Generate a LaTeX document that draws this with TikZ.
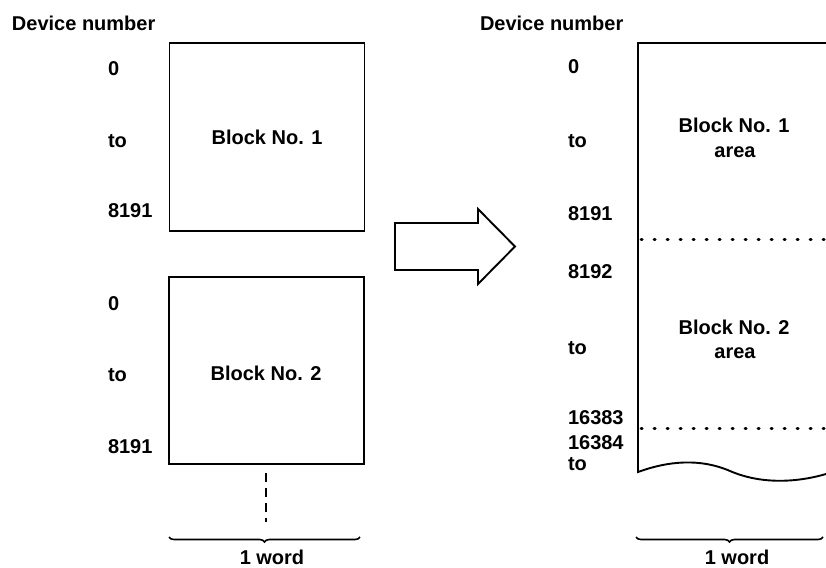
\documentclass[tikz,border=0pt]{standalone}
\usepackage{fontspec}
\setmainfont{Liberation Sans}
\usetikzlibrary{decorations.pathreplacing}
\begin{document}
\begin{tikzpicture}[x=1pt,y=-1pt,
  every node/.style={font=\fontsize{20}{24}\selectfont\bfseries, inner sep=0pt, outer sep=0pt},
  lab/.style={anchor=base west},
  ctr/.style={anchor=base},
  blockbox/.style={draw, line width=1.9pt, minimum width=195pt, minimum height=188pt},
  ln/.style={line width=1.9pt},
  dotline/.style={line width=3pt, dash pattern=on 1pt off 12pt, line cap=round},
  bracestyle/.style={line width=1.6pt, decorate, decoration={brace, mirror, amplitude=5pt}}]
\useasboundingbox (0,0) rectangle (826,567);
% left side
\node[lab] (dnL) at (12,31) {Device number};
\node[blockbox] (b1) at (267,137) {Block No. 1};
\node[blockbox, minimum height=187pt] (b2) at (266.5,370.5) {};
\node[ctr] (b2t) at (266,380) {Block No. 2};
\node[lab] (l1) at (108,76) {0};
\node[lab] (l2) at (108,147) {to};
\node[lab] (l3) at (108,217) {8191};
\node[lab] (l4) at (108,310) {0};
\node[lab] (l5) at (108,381) {to};
\node[lab] (l6) at (108,453) {8191};
\coordinate (dA) at (266,473);
\coordinate (dB) at (266,522);
\draw[line width=1.5pt, dash pattern=on 9pt off 6pt] (dA) -- (dB);
\coordinate (brL1) at (169,537);
\coordinate (brL2) at (360,537);
\draw[bracestyle] (brL1) -- (brL2);
\node[ctr] (wL) at (272,564) {1 word};
% arrow
\draw[ln, line join=miter] (395,223) -- (478,223) -- (478,209) -- (515,246.5) -- (478,284) -- (478,270) -- (395,270) -- cycle;
% right side
\node[lab] (dnR) at (480,31) {Device number};
\coordinate (rTL) at (638,43);
\coordinate (rTR) at (826,43);
\coordinate (rBL) at (638,472);
\draw[ln, line join=miter] (rTR) -- (rTL) -- (rBL)
  .. controls (668,461) and (700,458) .. (730,471)
  .. controls (760,484) and (795,483) .. (826,474);
\draw[dotline] (641,239) -- (826,239);
\draw[dotline] (641,428) -- (826,428);
\node[ctr] (r1a) at (734,132) {Block No. 1};
\node[ctr] (r1b) at (735,157) {area};
\node[ctr] (r2a) at (734,334) {Block No. 2};
\node[ctr] (r2b) at (735,358) {area};
\node[lab] (m1) at (568,74) {0};
\node[lab] (m2) at (568,147) {to};
\node[lab] (m3) at (568,220) {8191};
\node[lab] (m4) at (568,278) {8192};
\node[lab] (m5) at (568,354) {to};
\node[lab] (m6) at (568,424) {16383};
\node[lab] (m7) at (568,449) {16384};
\node[lab] (m8) at (568,470) {to};
\coordinate (brR1) at (636,537);
\coordinate (brR2) at (823,537);
\draw[bracestyle] (brR1) -- (brR2);
\node[ctr] (wR) at (737,564) {1 word};
\end{tikzpicture}
\end{document}
